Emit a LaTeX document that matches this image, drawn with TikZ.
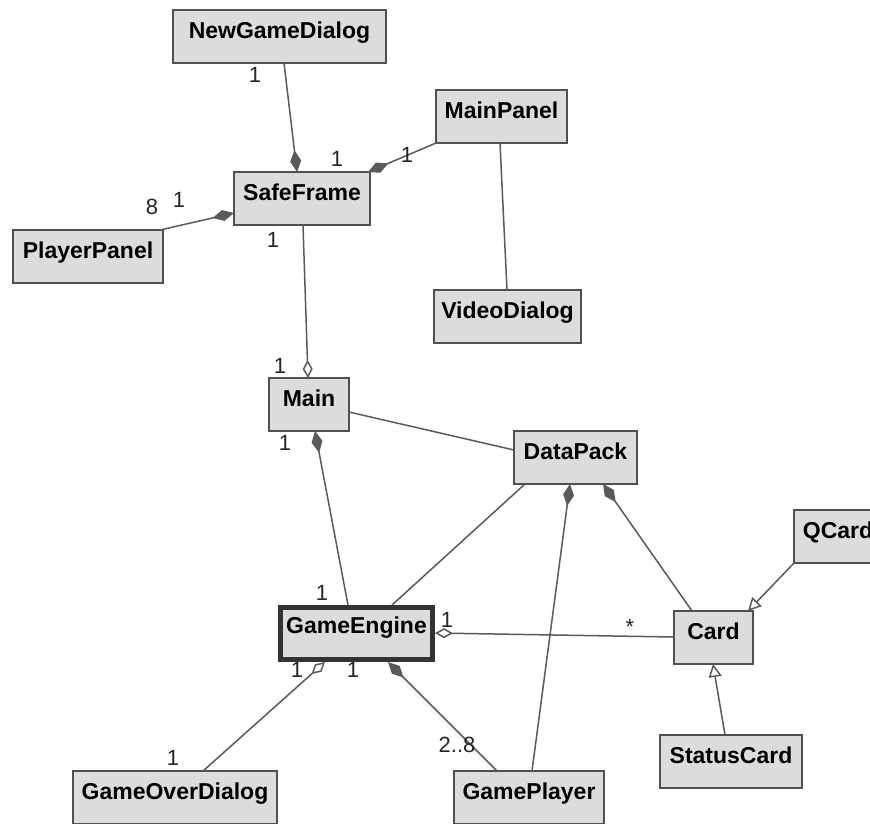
\documentclass[tikz,border=0pt]{standalone}
\usepackage{fontspec}
\setmainfont{Liberation Sans}
\usetikzlibrary{arrows.meta,calc}
\definecolor{boxfill}{HTML}{DCDCDC}
\definecolor{boxline}{HTML}{505050}
\definecolor{wire}{HTML}{5A5A5A}
\begin{document}
\begin{tikzpicture}[x=1pt,y=-1pt,
  cls/.style={draw=boxline, line width=1.6pt, fill=boxfill, inner sep=0pt, outer sep=0pt,
    anchor=north west, font=\fontsize{23}{23}\selectfont\bfseries,
    text height=28pt, text depth=25pt, minimum height=53pt},
  engine/.style={cls, draw=black!80, line width=5pt, text height=25.5pt, text depth=26.5pt, minimum height=52pt},
  lbl/.style={inner sep=0pt, font=\fontsize{22}{22}\selectfont, text=black!85},
  edge/.style={draw=wire, line width=1.5pt},
  comp/.style={edge, -{Diamond[length=22pt,width=11pt,fill=wire,color=wire]}},
  aggr/.style={edge, -{Diamond[open,length=18pt,width=10pt,fill=white,color=wire]}},
  gen/.style={edge, -{Triangle[open,length=13pt,width=13pt,fill=white,color=wire]}}]
\fill[white] (0,0) rectangle (870,823);
\useasboundingbox (0,0) rectangle (870,823);

% classes
\node[cls, minimum width=213] (ngd) at (173,10) {NewGameDialog};
\node[cls, minimum width=131] (mpanel) at (436,90) {MainPanel};
\node[cls, minimum width=136] (sframe) at (234,172) {SafeFrame};
\node[cls, minimum width=150] (ppanel) at (13,230) {PlayerPanel};
\node[cls, minimum width=147] (vdlg) at (434,290) {VideoDialog};
\node[cls, minimum width=80] (main) at (269,378) {Main};
\node[cls, minimum width=123] (dpack) at (514,431) {DataPack};
\node[engine, minimum width=152] (gengine) at (280.5,607.5) {GameEngine};
\node[cls, minimum width=79] (card) at (674,611) {Card};
\node[cls, minimum width=88] (qcard) at (794,510) {QCard};
\node[cls, minimum width=142] (scard) at (660,735) {StatusCard};
\node[cls, minimum width=204] (godlg) at (73,771) {GameOverDialog};
\node[cls, minimum width=150] (gplayer) at (454,771) {GamePlayer};

% associations
\draw[comp] ($(ngd.south west)+(111,0)$) -- ($(sframe.north west)+(63,0)$);
\draw[comp] (mpanel.south west) -- ($(sframe.north east)+(-2,0)$);
\draw[comp] ($(ppanel.north east)+(-3,0)$) -- ($(sframe.south west)+(0,-12)$);
\draw[aggr] ($(sframe.south west)+(69,0)$) -- ($(main.north west)+(39,0)$);
\draw[edge] ($(mpanel.south west)+(64,0)$) -- ($(vdlg.north west)+(73,0)$);
\draw[edge] ($(main.north east)+(0,34)$) -- ($(dpack.north west)+(0,19)$);
\draw[comp] ($(gengine.north west)+(67.5,-2.5)$) -- ($(main.south west)+(46,0)$);
\draw[edge] ($(dpack.south west)+(11,0)$) -- ($(gengine.north west)+(111.5,-2.5)$);
\draw[comp] ($(gplayer.north west)+(78,0)$) -- ($(dpack.south west)+(56,0)$);
\draw[comp] ($(card.north west)+(18,0)$) -- ($(dpack.south west)+(89,0)$);
\draw[aggr] ($(card.north west)+(0,26)$) -- ($(gengine.north east)+(2.5,25.5)$);
\draw[gen] (qcard.south west) -- ($(card.north east)+(-5,0)$);
\draw[gen] ($(scard.north west)+(65,0)$) -- ($(card.south west)+(39,0)$);
\draw[aggr] ($(godlg.north west)+(130,0)$) -- ($(gengine.south west)+(44.5,2.5)$);
\draw[comp] ($(gplayer.north west)+(43,0)$) -- ($(gengine.south west)+(107.5,2.5)$);

% multiplicities
\node[lbl] (m1) at (255,75) {1};
\node[lbl] (m2) at (337,159) {1};
\node[lbl] (m3) at (407,155) {1};
\node[lbl] (m4) at (152,207) {8};
\node[lbl] (m5) at (179,200) {1};
\node[lbl] (m6) at (273,240) {1};
\node[lbl] (m7) at (280,366) {1};
\node[lbl] (m8) at (285,443) {1};
\node[lbl] (m9) at (322,593) {1};
\node[lbl] (m10) at (447,620) {1};
\node[lbl] (m11) at (630,627) {*};
\node[lbl] (m12) at (297,670) {1};
\node[lbl] (m13) at (353,670) {1};
\node[lbl] (m14) at (173,758) {1};
\node[lbl] (m15) at (457,745) {2..8};
\end{tikzpicture}
\end{document}
